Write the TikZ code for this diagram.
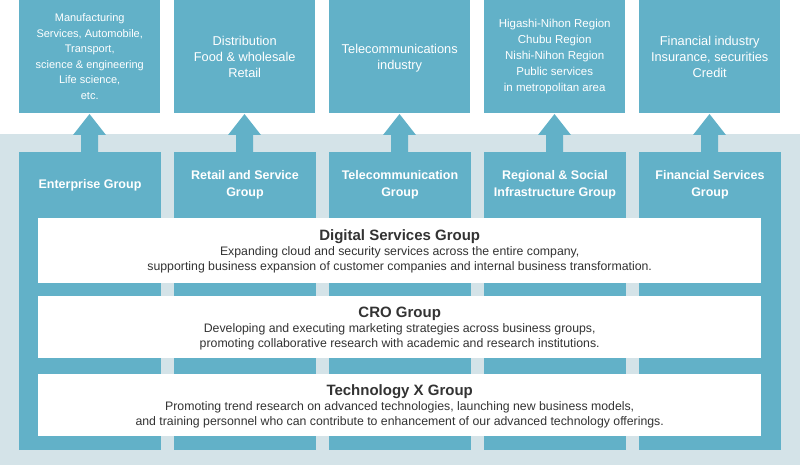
\documentclass[tikz,border=0pt]{standalone}
\usepackage{fontspec}
\setmainfont{Liberation Sans}
\begin{document}
\begin{tikzpicture}[x=1pt,y=-1pt,
  topbox/.style={fill=teal1,draw=none,minimum width=141pt,minimum height=113pt,anchor=north west,text=white,align=center,inner sep=0pt},
  colbox/.style={fill=teal1,draw=none,minimum width=142pt,minimum height=298pt,anchor=north west,inner sep=0pt},
  coltext/.style={text=white,font=\bfseries\fontsize{12.5}{17}\selectfont,align=center},
  wbox/.style={fill=white,draw=none,minimum width=723pt,anchor=north west,inner sep=0pt},
  wtext/.style={text=txt,align=center,font=\fontsize{12.3}{15}\selectfont},
  arr/.style={fill=teal1,draw=none}]
\definecolor{teal1}{HTML}{62B1C8}
\definecolor{bgc}{HTML}{D4E3E8}
\definecolor{txt}{HTML}{333333}
\useasboundingbox (0,0) rectangle (800,465);
\fill[bgc] (0,134) rectangle (800,465);
\foreach \i/\x in {1/19,2/174,3/329,4/484,5/639}{
  \node[topbox] (t\i) at (\x,0) {};
  \node[colbox] (c\i) at (\x,152) {};
  \fill[arr] (\x+62,152) -- (\x+62,135) -- (\x+54,135) -- (\x+70.5,114) -- (\x+87,135) -- (\x+79,135) -- (\x+79,152) -- cycle;
}
\node[text=white,align=center,font=\fontsize{11}{15.5}\selectfont] (tt1) at (t1.center) {Manufacturing\\Services, Automobile,\\Transport,\\science \& engineering\\Life science,\\etc.};
\node[text=white,align=center,font=\fontsize{12.8}{16}\selectfont] (tt2) at (t2.center) {Distribution\\Food \& wholesale\\Retail};
\node[text=white,align=center,font=\fontsize{12.8}{16}\selectfont] (tt3) at ([yshift=-1]t3.center) {Telecommunications\\industry};
\node[text=white,align=center,font=\fontsize{11.5}{16}\selectfont] (tt4) at (t4.center) {Higashi-Nihon Region\\Chubu Region\\Nishi-Nihon Region\\Public services\\in metropolitan area};
\node[text=white,align=center,font=\fontsize{12.8}{16}\selectfont] (tt5) at (t5.center) {Financial industry\\Insurance, securities\\Credit};
\node[coltext] (g1) at (90,185) {Enterprise Group};
\node[coltext] (g2) at (245,185) {Retail and Service\\Group};
\node[coltext] (g3) at (400,185) {Telecommunication\\Group};
\node[coltext] (g4) at (555,185) {Regional \& Social\\Infrastructure Group};
\node[coltext] (g5) at (710,185) {Financial Services\\Group};
\node[wbox,minimum height=65pt] (w1) at (38,218) {};
\node[wbox,minimum height=62pt] (w2) at (38,296) {};
\node[wbox,minimum height=62pt] (w3) at (38,374) {};
\node[wtext] (d1) at ([yshift=-1]w1.center) {{\bfseries\fontsize{15}{18}\selectfont Digital Services Group}\\Expanding cloud and security services across the entire company,\\supporting business expansion of customer companies and internal business transformation.};
\node[wtext] (d2) at ([yshift=-1]w2.center) {{\bfseries\fontsize{15}{18}\selectfont CRO Group}\\Developing and executing marketing strategies across business groups,\\promoting collaborative research with academic and research institutions.};
\node[wtext] (d3) at ([yshift=-1]w3.center) {{\bfseries\fontsize{15}{18}\selectfont Technology X Group}\\Promoting trend research on advanced technologies, launching new business models,\\and training personnel who can contribute to enhancement of our advanced technology offerings.};
\end{tikzpicture}
\end{document}
